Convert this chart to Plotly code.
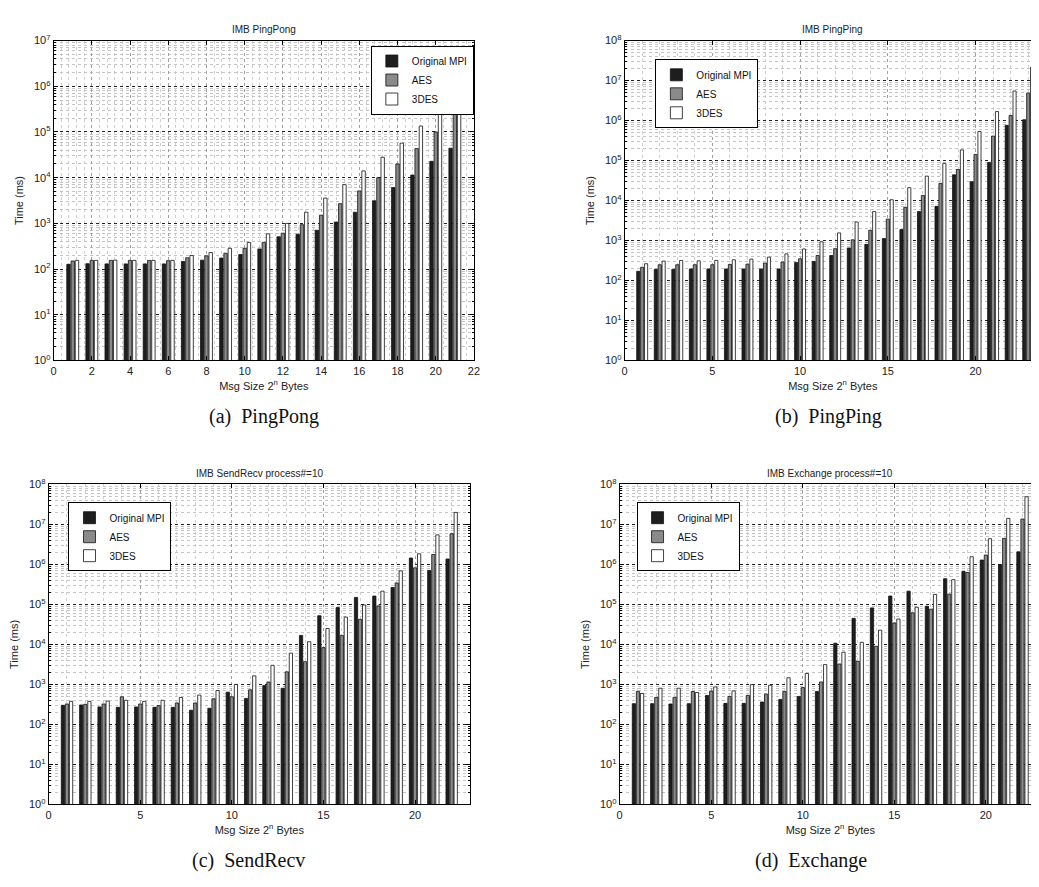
import plotly.graph_objects as go

# ---------------- data ----------------
series_names = ["Original MPI", "AES", "3DES"]

pingpong_x = list(range(1, 22))
pingpong_orig = [127, 131, 130, 130, 130, 130, 147, 157, 174, 208, 276, 508, 580, 708, 1070,
                 1757, 3130, 6070, 11400, 22800, 44200]
pingpong_aes = [150, 155, 155, 155, 155, 153, 177, 195, 222, 285, 384, 610, 937, 1513, 2700,
                5140, 10000, 20000, 43400, 100000, 290000]
pingpong_3des = [155, 155, 157, 155, 155, 155, 198, 230, 285, 384, 590, 1000, 1757, 3575, 7040,
                 14100, 28000, 57000, 135000, 320000, 2000000]

pingping_x = list(range(1, 24))
pingping_orig = [170, 191, 191, 195, 195, 195, 195, 195, 195, 284, 300, 422, 651, 802, 1120,
                 1880, 5300, 7170, 44000, 29600, 90000, 760000, 1050000]
pingping_aes = [214, 248, 248, 248, 248, 252, 256, 273, 289, 349, 422, 627, 1040, 1800, 3430,
                6780, 13400, 26900, 59500, 142000, 410000, 1340000, 4850000]
pingping_3des = [263, 306, 318, 310, 318, 330, 343, 384, 464, 615, 930, 1550, 2900, 5300, 10500,
                 21000, 40800, 85000, 185000, 532000, 1680000, 5500000, 21600000]

sendrecv_x = list(range(1, 23))
sendrecv_orig = [300, 306, 273, 267, 273, 267, 267, 226, 253, 640, 446, 933, 802, 16800, 52100,
                 83600, 150000, 162000, 265000, 1450000, 708000, 1370000]
sendrecv_aes = [324, 318, 324, 490, 324, 295, 343, 343, 437, 490, 730, 1150, 2060, 3700, 8300,
                16800, 42400, 91800, 345000, 822000, 1780000, 5860000]
sendrecv_3des = [377, 377, 384, 400, 377, 400, 472, 540, 703, 1000, 1640, 3000, 6060, 11700, 25000,
                 48300, 97200, 215000, 693000, 1850000, 5500000, 20000000]

exchange_x = list(range(1, 23))
exchange_orig = [330, 330, 324, 330, 529, 336, 336, 363, 422, 500, 664, 10700, 44800, 82000, 162000,
                 215000, 90000, 440000, 667000, 1290000, 993000, 2070000]
exchange_aes = [664, 472, 472, 664, 676, 500, 529, 571, 664, 832, 1150, 3240, 3780, 9000, 34400,
                61800, 76000, 181000, 630000, 1720000, 4500000, 13700000]
exchange_3des = [593, 802, 802, 627, 864, 689, 987, 950, 1468, 1876, 3130, 6400, 11300, 22700, 43100,
                 85000, 178000, 417000, 1560000, 4400000, 14200000, 49500000]

titles = ["IMB PingPong", "IMB PingPing", "IMB SendRecv process#=10", "IMB Exchange process#=10"]
captions = ["(a)  PingPong", "(b)  PingPing", "(c)  SendRecv", "(d)  Exchange"]
x_label = "Msg Size 2<sup>n</sup> Bytes"
y_label = "Time (ms)"
ytick_vals = [1, 10, 100, 1000, 1e4, 1e5, 1e6, 1e7, 1e8]
ytick_text = ["10<sup>0</sup>", "10<sup>1</sup>", "10<sup>2</sup>", "10<sup>3</sup>",
              "10<sup>4</sup>", "10<sup>5</sup>", "10<sup>6</sup>", "10<sup>7</sup>",
              "10<sup>8</sup>"]
x_ticks_a = [0, 2, 4, 6, 8, 10, 12, 14, 16, 18, 20, 22]
x_ticks_other = [0, 5, 10, 15, 20]

colors = ["#1e1e1e", "#8a8a8a", "#ffffff"]

W, H = 1039, 887
FONT = "Liberation Sans, Arial, Helvetica, sans-serif"

panels = [
    dict(x=pingpong_x, ys=[pingpong_orig, pingpong_aes, pingpong_3des],
         px=(43, 467), py=(25, 350), xr=[0, 22], yr=[0, 7], xt=x_ticks_a, minor_dx=0.4,
         leg=(363, 30), cap_x=255, cap_y=407),
    dict(x=pingping_x, ys=[pingping_orig, pingping_aes, pingping_3des],
         px=(619, 1039), py=(25, 350), xr=[0, 23.73], yr=[0, 8], xt=x_ticks_other, minor_dx=1,
         leg=(650, 44), cap_x=825, cap_y=407),
    dict(x=sendrecv_x, ys=[sendrecv_orig, sendrecv_aes, sendrecv_3des],
         px=(38, 463), py=(476, 801), xr=[0, 23], yr=[0, 8], xt=x_ticks_other, minor_dx=1,
         leg=(58, 494), cap_x=240, cap_y=858),
    dict(x=exchange_x, ys=[exchange_orig, exchange_aes, exchange_3des],
         px=(614, 1039), py=(476, 801), xr=[0, 23.01], yr=[0, 8], xt=x_ticks_other, minor_dx=1,
         leg=(631, 494), cap_x=807, cap_y=858),
]

fig = go.Figure()
layout = {}
annotations = []

for i, p in enumerate(panels):
    n = i + 1
    xa = "x" if n == 1 else f"x{n}"
    ya = "y" if n == 1 else f"y{n}"
    legname = "legend" if n == 1 else f"legend{n}"
    for s, (name, vals) in enumerate(zip(series_names, p["ys"])):
        fig.add_trace(go.Bar(
            x=p["x"], y=vals, name=name, xaxis=xa, yaxis=ya, legend=legname,
            marker=dict(color=colors[s], line=dict(color="#111111", width=0.8)),
        ))
    x0, x1 = p["px"]
    ytop, ybot = p["py"]
    xkey = "xaxis" if n == 1 else f"xaxis{n}"
    ykey = "yaxis" if n == 1 else f"yaxis{n}"
    layout[xkey] = dict(
        domain=[x0 / W, min(x1 / W, 1.0)], range=p["xr"], anchor=ya,
        tickmode="array", tickvals=p["xt"], ticks="inside", ticklen=4,
        tickcolor="black", showline=True, linecolor="black", linewidth=1, mirror="ticks",
        showgrid=True, gridcolor="#a0a0a0", griddash="dot", gridwidth=1,
        minor=dict(dtick=p["minor_dx"], showgrid=True, gridcolor="#cfcfcf",
                   griddash="dot", gridwidth=1),
        tickfont=dict(size=11, color="#222"), zeroline=False,
        title=dict(text=x_label, font=dict(size=11, color="#222"), standoff=6),
    )
    layout[ykey] = dict(
        domain=[1 - ybot / H, 1 - ytop / H], type="log", range=p["yr"], anchor=xa,
        tickmode="array", tickvals=ytick_vals, ticktext=ytick_text, ticks="inside",
        ticklen=4, tickcolor="black", showline=True, linecolor="black", linewidth=1,
        mirror="ticks", showgrid=True, gridcolor="#222222", griddash="dot", gridwidth=1,
        minor=dict(dtick="D1", showgrid=True, gridcolor="#c4c4c4", griddash="dot",
                   gridwidth=1, ticks="inside", ticklen=2, tickcolor="black"),
        tickfont=dict(size=11, color="#222"), zeroline=False,
        title=dict(text=y_label, font=dict(size=11, color="#222"), standoff=8),
    )
    lx, ly = p["leg"]
    layout[legname] = dict(
        x=lx / W, y=1 - ly / H, xanchor="left", yanchor="top", xref="paper", yref="paper",
        bgcolor="white", bordercolor="black", borderwidth=1,
        font=dict(size=10, family=FONT, color="#111"), tracegroupgap=0,
        itemwidth=30,
    )
    annotations.append(dict(
        text=titles[i], x=(x0 + min(x1, W)) / 2 / W, y=1 - (ytop - 11) / H,
        xref="paper", yref="paper", showarrow=False, xanchor="center", yanchor="middle",
        font=dict(size=10, family=FONT, color="#222"),
    ))
    annotations.append(dict(
        text=captions[i], x=p["cap_x"] / W, y=1 - p["cap_y"] / H,
        xref="paper", yref="paper", showarrow=False, xanchor="center", yanchor="middle",
        font=dict(size=20, family="Liberation Serif, Times New Roman, serif", color="#111"),
    ))

fig.update_layout(
    width=W, height=H, margin=dict(l=0, r=0, t=0, b=0),
    paper_bgcolor="white", plot_bgcolor="white",
    barmode="group", bargap=0.333, bargroupgap=0.2,
    font=dict(family=FONT, size=11, color="#222"),
    annotations=annotations,
    **layout,
)

fig.write_html("out.html")
